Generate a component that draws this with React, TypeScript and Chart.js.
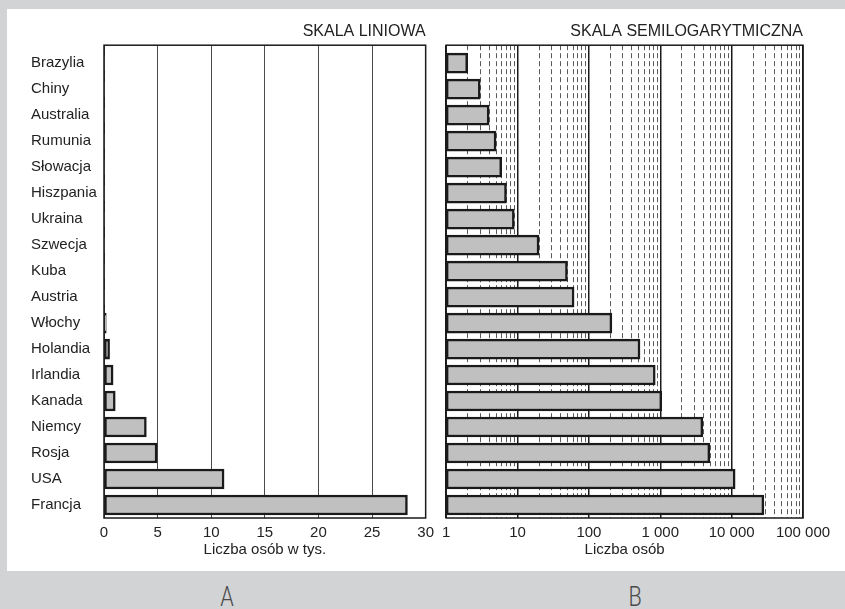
import React, { useEffect, useRef } from 'react';
import { Chart, registerables } from 'chart.js';

Chart.register(...registerables);

// Countries from the top of the chart to the bottom
const countries = [
  'Brazylia', 'Chiny', 'Australia', 'Rumunia', 'Słowacja', 'Hiszpania', 'Ukraina',
  'Szwecja', 'Kuba', 'Austria', 'Włochy', 'Holandia', 'Irlandia', 'Kanada',
  'Niemcy', 'Rosja', 'USA', 'Francja',
];

// Number of people per country
const persons = [2, 3, 4, 5, 6, 7, 9, 20, 50, 62, 210, 520, 850, 1050, 3950, 4950, 11200, 28300];

// Linear panel axis (thousands of people)
const linearMin = 0;
const linearMax = 30;
const linearStep = 5;

// Semi-log panel axis: decades and the sub-steps inside each decade
const logDecades = [1, 10, 100, 1000, 10000];
const logSubSteps = [1, 2, 3, 4, 5, 6, 7, 8, 9];
const logMin = 1;
const logMax = 100000;

const titleLinear = 'SKALA LINIOWA';
const titleLog = 'SKALA SEMILOGARYTMICZNA';
const axisLinear = 'Liczba osób w tys.';
const axisLog = 'Liczba osób';

const FONT = "'Liberation Sans', Arial, Helvetica, sans-serif";
const INK = '#222222';
const BAR_FILL = '#c0c0c0';
const BAR_EDGE = '#1a1a1a';

// Category index range shown on the vertical axis (top gap is a little larger)
const INDEX_TOP = -0.69;
const INDEX_BOTTOM = 17.5;

const isDecade = (v: number | undefined) => {
  if (v === undefined || v <= 0) return false;
  const l = Math.log10(v);
  return Math.abs(l - Math.round(l)) < 1e-9;
};

const formatThousands = (v: number) =>
  String(Math.round(v)).replace(/\B(?=(\d{3})+(?!\d))/g, ' ');

// Closed box around the plotting area
const framePlugin = {
  id: 'frame',
  afterDatasetsDraw(chart: any) {
    const { ctx, chartArea: a } = chart;
    ctx.save();
    ctx.lineWidth = 1.5;
    ctx.strokeStyle = '#1a1a1a';
    ctx.strokeRect(a.left, a.top, a.right - a.left, a.bottom - a.top);
    ctx.restore();
  },
};

function indexScale(showLabels: boolean) {
  const scale: any = {
    type: 'linear',
    display: showLabels,
    reverse: true,
    offset: false,
    bounds: 'data',
    min: INDEX_TOP,
    max: INDEX_BOTTOM,
    afterBuildTicks: (s: any) => {
      s.ticks = countries.map((_, i) => ({ value: i }));
      s.min = INDEX_TOP;
      s.max = INDEX_BOTTOM;
    },
    grid: { display: false, offset: false },
    border: { display: false },
    ticks: {
      autoSkip: false,
      crossAlign: 'far',
      color: INK,
      font: { family: FONT, size: 15 },
      callback: (v: number) => countries[v] ?? '',
    },
  };
  if (showLabels) {
    scale.afterFit = (s: any) => {
      s.width = 73;
    };
  }
  return scale;
}

function axisTitle(text: string) {
  return {
    display: true,
    text,
    color: INK,
    font: { family: FONT, size: 15 },
    padding: { top: 0, bottom: 5 },
  };
}

function panelTitle(text: string) {
  return {
    display: true,
    text,
    align: 'end',
    fullSize: false,
    color: INK,
    font: { family: FONT, size: 16, weight: 'normal' },
    padding: { top: 13, bottom: 4 },
  };
}

function barDataset(values: number[]) {
  return {
    data: values.map((v, i) => ({ x: v, y: i })),
    backgroundColor: BAR_FILL,
    borderColor: BAR_EDGE,
    borderWidth: 2.5,
    borderSkipped: false,
    barThickness: 20,
  };
}

function LinearPanel() {
  const ref = useRef<HTMLCanvasElement>(null);
  useEffect(() => {
    const chart = new Chart(ref.current as HTMLCanvasElement, {
      type: 'bar',
      data: { datasets: [barDataset(persons.map((p) => p / 1000))] as any },
      plugins: [framePlugin],
      options: {
        responsive: false,
        animation: false,
        indexAxis: 'y',
        layout: { padding: { left: 24, right: 11, top: 0, bottom: 7 } },
        plugins: {
          legend: { display: false },
          tooltip: { enabled: false },
          title: panelTitle(titleLinear) as any,
        },
        scales: {
          y: indexScale(true),
          x: {
            type: 'linear',
            position: 'bottom',
            min: linearMin,
            max: linearMax,
            afterFit: (s: any) => {
              s.height = 46;
            },
            grid: { color: '#4a4a4a', lineWidth: 1, drawTicks: false },
            border: { display: false },
            ticks: {
              stepSize: linearStep,
              padding: 6,
              maxRotation: 0,
              color: INK,
              font: { family: FONT, size: 15 },
            },
            title: axisTitle(axisLinear) as any,
          },
        },
      },
    });
    return () => chart.destroy();
  }, []);
  return <canvas ref={ref} width={433} height={562} style={{ display: 'block' }} />;
}

function LogPanel() {
  const ref = useRef<HTMLCanvasElement>(null);
  useEffect(() => {
    const gridValues: number[] = [];
    logDecades.forEach((d) => logSubSteps.forEach((k) => gridValues.push(d * k)));
    gridValues.push(logMax);

    const chart = new Chart(ref.current as HTMLCanvasElement, {
      type: 'bar',
      data: { datasets: [barDataset(persons)] as any },
      plugins: [framePlugin],
      options: {
        responsive: false,
        animation: false,
        indexAxis: 'y',
        layout: { padding: { left: 9, right: 42, top: 0, bottom: 7 } },
        plugins: {
          legend: { display: false },
          tooltip: { enabled: false },
          title: panelTitle(titleLog) as any,
        },
        scales: {
          y: indexScale(false),
          x: {
            type: 'logarithmic',
            position: 'bottom',
            min: logMin,
            max: logMax,
            afterBuildTicks: (s: any) => {
              s.ticks = gridValues.map((v) => ({ value: v, major: false }));
            },
            afterFit: (s: any) => {
              s.height = 46;
            },
            grid: {
              drawTicks: false,
              color: (c: any) => (isDecade(c.tick?.value) ? '#1a1a1a' : '#5a5a5a'),
              lineWidth: (c: any) => (isDecade(c.tick?.value) ? 1.5 : 1),
            },
            border: {
              display: false,
              dash: (c: any) => (c.tick && !isDecade(c.tick.value) ? [5, 3] : []),
            },
            ticks: {
              autoSkip: false,
              padding: 6,
              maxRotation: 0,
              color: INK,
              font: { family: FONT, size: 15 },
              callback: (v: number) => (isDecade(v) ? formatThousands(v) : ''),
            },
            title: axisTitle(axisLog) as any,
          },
        },
      },
    });
    return () => chart.destroy();
  }, []);
  return <canvas ref={ref} width={409} height={562} style={{ display: 'block' }} />;
}

const letterStyle: React.CSSProperties = {
  position: 'absolute',
  top: 584,
  width: 40,
  textAlign: 'center',
  fontFamily: "Roboto, 'DejaVu Sans', sans-serif",
  fontWeight: 300,
  fontSize: 27,
  lineHeight: '27px',
  color: '#4a4a4a',
  transform: 'scaleX(0.8)',
};

export default function App() {
  return (
    <div
      style={{
        position: 'fixed',
        left: 0,
        top: 0,
        width: 845,
        height: 609,
        background: '#d1d3d4',
        overflow: 'hidden',
      }}
    >
      <div
        style={{ position: 'absolute', left: 7, top: 9, width: 838, height: 562, background: '#ffffff' }}
      />
      <div style={{ position: 'absolute', left: 7, top: 9, width: 433, height: 562 }}>
        <LinearPanel />
      </div>
      <div style={{ position: 'absolute', left: 436, top: 9, width: 409, height: 562 }}>
        <LogPanel />
      </div>
      <div style={{ ...letterStyle, left: 207 }}>A</div>
      <div style={{ ...letterStyle, left: 615 }}>B</div>
    </div>
  );
}
